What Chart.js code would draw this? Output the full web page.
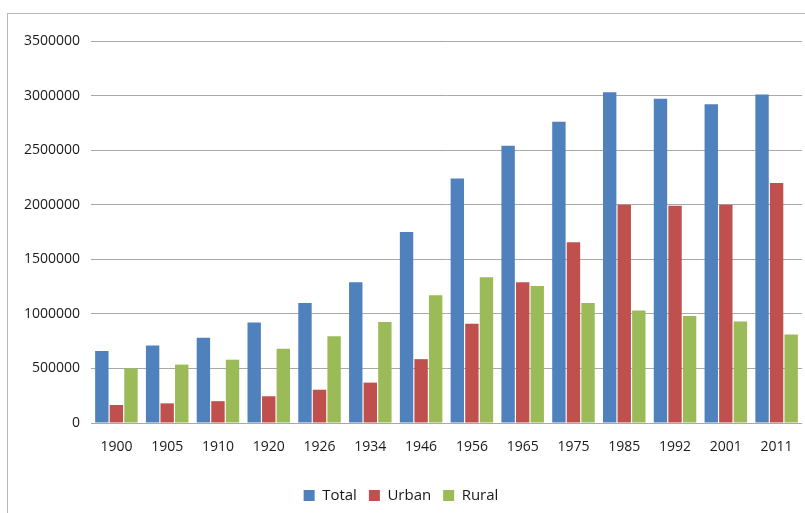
<!DOCTYPE html>
<html>
<head>
<meta charset="utf-8">
<title>Total / Urban / Rural</title>
<script src="https://cdn.jsdelivr.net/npm/chart.js@4"></script>
<style>
    html, body { margin: 0; padding: 0; background: #fff; }
    .wrap { position: relative; width: 805px; height: 513px; overflow: hidden; }
    .frame { position: absolute; left: 7px; top: 13px; width: 820px; height: 520px;
             border-left: 1px solid #b8b8b8; border-top: 1px solid #b8b8b8; }
    canvas { position: absolute; left: 0; top: 0; }
</style>
</head>
<body>
<div class="wrap">
    <div class="frame"></div>
    <canvas id="popChart" width="805" height="513"></canvas>
</div>
<script>
// ==================== DỮ LIỆU ====================
const years = ['1900','1905','1910','1920','1926','1934','1946','1956','1965','1975','1985','1992','2001','2011'];
const totalValues = [660000, 710000, 780000, 920000, 1100000, 1290000, 1750000, 2240000, 2540000, 2760000, 3030000, 2970000, 2920000, 3010000];
const urbanValues = [165000, 180000, 200000, 245000, 305000, 370000, 585000, 910000, 1290000, 1655000, 2000000, 1990000, 2000000, 2200000];
const ruralValues = [500000, 535000, 580000, 680000, 795000, 925000, 1170000, 1335000, 1255000, 1100000, 1030000, 980000, 930000, 810000];
const yTicks = [0, 500000, 1000000, 1500000, 2000000, 2500000, 3000000, 3500000];

// ==================== BIỂU ĐỒ ====================
const FONT = 'Open Sans, Liberation Sans, sans-serif';

new Chart(document.getElementById('popChart'), {
    type: 'bar',
    data: {
        labels: years,
        datasets: [
            { label: 'Total', data: totalValues, backgroundColor: '#4F81BD' },
            { label: 'Urban', data: urbanValues, backgroundColor: '#C0504D' },
            { label: 'Rural', data: ruralValues, backgroundColor: '#9BBB59' }
        ]
    },
    options: {
        responsive: false,
        animation: false,
        datasets: { bar: { categoryPercentage: 0.86, barPercentage: 0.92, borderWidth: 0 } },
        layout: { padding: { top: 41, right: 3, left: 0, bottom: 0 } },
        plugins: {
            tooltip: { enabled: false },
            legend: {
                position: 'bottom',
                labels: {
                    boxWidth: 11, boxHeight: 11, padding: 12,
                    color: '#1a1a1a', font: { family: FONT, size: 15 }
                }
            }
        },
        scales: {
            x: {
                grid: { display: false },
                border: { display: false },
                ticks: { color: '#1a1a1a', padding: 8, font: { family: FONT, size: 14 }, maxRotation: 0 },
                afterFit(scale) { scale.height = 53; }
            },
            y: {
                min: 0, max: 3500000,
                afterBuildTicks(scale) { scale.ticks = yTicks.map(v => ({ value: v })); },
                grid: { color: '#a9a9a9', drawTicks: false },
                border: { display: false },
                ticks: {
                    color: '#1a1a1a', padding: 11, font: { family: FONT, size: 14 },
                    callback: v => String(v)
                },
                afterFit(scale) { scale.width = 91; }
            }
        }
    }
});
</script>
</body>
</html>
